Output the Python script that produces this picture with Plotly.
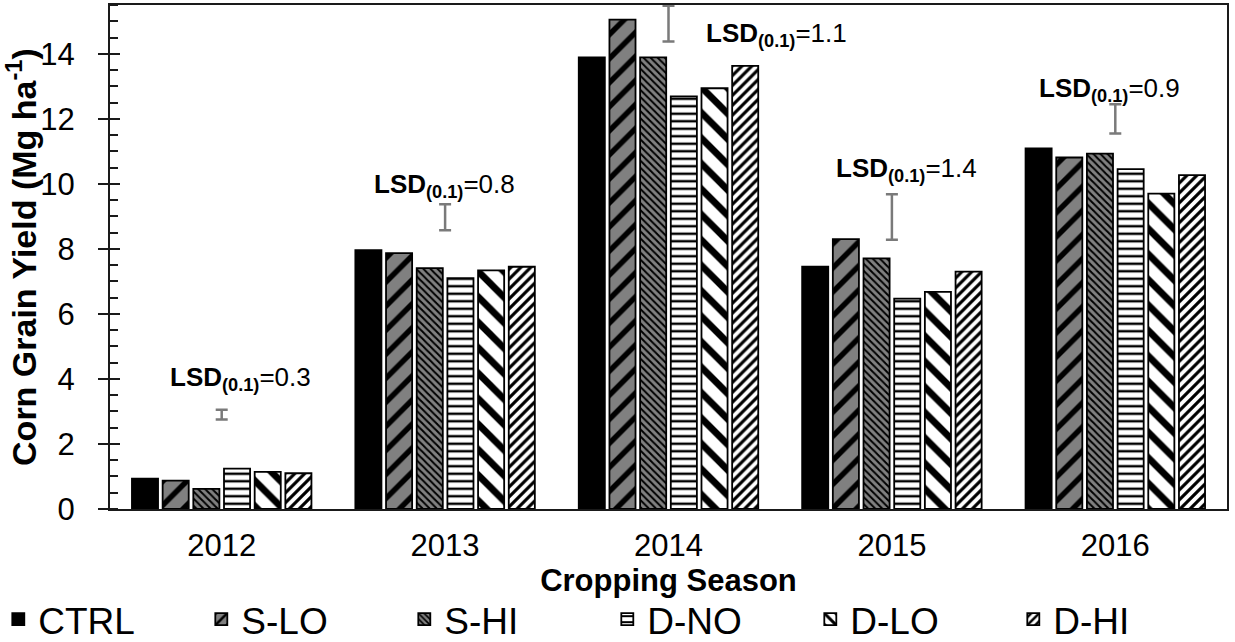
import plotly.graph_objects as go

# Corn grain yield (Mg ha-1) by cropping season and treatment
seasons = ["2012", "2013", "2014", "2015", "2016"]
treatments = ["CTRL", "S-LO", "S-HI", "D-NO", "D-LO", "D-HI"]

ctrl = [0.93, 7.96, 13.89, 7.45, 11.09]
s_lo = [0.87, 7.87, 15.05, 8.30, 10.81]
s_hi = [0.62, 7.41, 13.89, 7.71, 10.93]
d_no = [1.24, 7.10, 12.69, 6.47, 10.45]
d_lo = [1.14, 7.34, 12.94, 6.68, 9.70]
d_hi = [1.10, 7.45, 13.63, 7.30, 10.27]

# Least significant difference (alpha = 0.1) per season and the height of its bar midpoint
lsd_values = [0.3, 0.8, 1.1, 1.4, 0.9]
lsd_centers = [2.90, 8.97, 14.93, 8.98, 12.00]

series = [ctrl, s_lo, s_hi, d_no, d_lo, d_hi]

FONT = "Liberation Sans, Arial, sans-serif"
AXIS_COLOR = "#1a1a1a"
Y_RANGE = [0, 15.5]

# fill styles for each treatment
styles = {
    "CTRL": dict(color="black"),
    "S-LO": dict(color="#808080", pattern=dict(shape="/", bgcolor="#808080", fgcolor="black",
                                               size=17, solidity=0.32, fillmode="replace")),
    "S-HI": dict(color="#808080", pattern=dict(shape="\\", bgcolor="#808080", fgcolor="black",
                                               size=5, solidity=0.4, fillmode="replace")),
    "D-NO": dict(color="white", pattern=dict(shape="-", bgcolor="white", fgcolor="black",
                                             size=7.5, solidity=0.33, fillmode="replace")),
    "D-LO": dict(color="white", pattern=dict(shape="\\", bgcolor="white", fgcolor="black",
                                             size=18, solidity=0.38, fillmode="replace")),
    "D-HI": dict(color="white", pattern=dict(shape="/", bgcolor="white", fgcolor="black",
                                             size=7, solidity=0.45, fillmode="replace")),
}

fig = go.Figure()

for name, vals in zip(treatments, series):
    marker = dict(styles[name])
    marker["line"] = dict(color="black", width=1.8)
    fig.add_trace(go.Bar(x=seasons, y=vals, name=name, marker=marker))

# LSD bars centred on each season group
fig.add_trace(go.Scatter(
    x=seasons, y=lsd_centers, mode="markers",
    marker=dict(size=1, color="rgba(0,0,0,0)"),
    error_y=dict(type="data", array=[v / 2 for v in lsd_values], symmetric=True,
                 color="#7a7a7a", thickness=2.5, width=6),
    showlegend=False, hoverinfo="skip",
))

# invisible trace that carries the overlay axis used for the inner half of the major ticks
fig.add_trace(go.Scatter(
    x=seasons[:1], y=[0], yaxis="y2", mode="markers",
    marker=dict(size=1, color="rgba(0,0,0,0)"),
    showlegend=False, hoverinfo="skip",
))

# LSD labels: (x shift in px, y in data units of the label's middle);
# x is given as the category index so it is not read as the number 2012
label_place = [(-54, 4.0), (-73, 9.95), (35, 14.6), (-58, 10.45), (-78, 12.9)]
for i, (lsd, (dx, ly)) in enumerate(zip(lsd_values, label_place)):
    fig.add_annotation(
        x=i, y=ly, xref="x", yref="y", xanchor="left", yanchor="middle",
        xshift=dx, showarrow=False,
        text=f"<b>LSD<sub>(0.1)</sub></b>={lsd}",
        font=dict(family=FONT, size=26, color="black"),
    )

fig.update_layout(
    width=1235, height=642,
    margin=dict(l=110, r=8, t=5, b=133, autoexpand=False),
    paper_bgcolor="white", plot_bgcolor="white",
    barmode="group", bargap=0.176, bargroupgap=0.15,
    font=dict(family=FONT, color="black"),
    showlegend=True,
    legend=dict(
        orientation="h", x=-0.1, xanchor="left", y=-0.158, yanchor="top",
        font=dict(family=FONT, size=37, color="black"),
        entrywidth=158, itemwidth=30, traceorder="normal",
        bgcolor="rgba(0,0,0,0)",
    ),
    xaxis=dict(
        type="category", categoryorder="array", categoryarray=seasons,
        range=[-0.5, len(seasons) - 0.5], autorange=False,
        showline=True, linecolor=AXIS_COLOR, linewidth=2, mirror=True,
        ticks="", showgrid=False, tickfont=dict(size=31), ticklabelstandoff=8,
        title=dict(text="<b>Cropping Season</b>", font=dict(size=31), standoff=0),
    ),
    yaxis=dict(
        range=Y_RANGE, autorange=False, dtick=2, tick0=0, showline=True,
        linecolor=AXIS_COLOR, linewidth=2,
        mirror=True, showgrid=False, zeroline=False,
        ticks="outside", ticklen=10, tickwidth=1.5, tickcolor=AXIS_COLOR,
        tickfont=dict(size=31), ticklabelstandoff=17,
        minor=dict(dtick=0.5, ticks="inside", ticklen=8, tickwidth=1.5, tickcolor=AXIS_COLOR),
        title=dict(text="<b>Corn Grain Yield (Mg ha<sup>-1</sup>)</b>", font=dict(size=34), standoff=0),
    ),
    yaxis2=dict(
        overlaying="y", side="left", anchor="x", range=Y_RANGE, autorange=False,
        dtick=2, tick0=0, ticks="inside", ticklen=10, tickwidth=1.5, tickcolor=AXIS_COLOR,
        showticklabels=False, showline=False, showgrid=False, zeroline=False,
    ),
)

fig.write_html("out.html")
